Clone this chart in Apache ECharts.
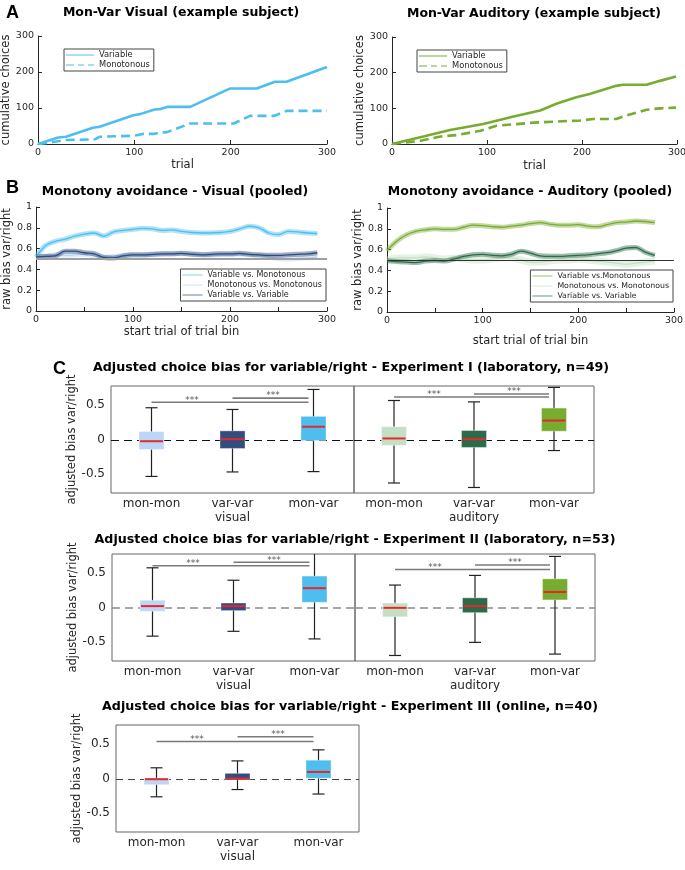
<!DOCTYPE html>
<html>
<head>
<meta charset="utf-8">
<script src="https://cdn.jsdelivr.net/npm/echarts@6/dist/echarts.min.js"></script>
<style>
  html, body { margin: 0; padding: 0; background: #fff; }
  #chart { width: 685px; height: 870px; }
</style>
</head>
<body>
<div id="chart"></div>
<script>
// ---------- data ----------
const trialTicks = [0, 100, 200, 300];
const binTicks = [0, 50, 100, 150, 200, 250, 300];
const adjTicks = [-0.5, 0, 0.5];
const adjTicksRight = [-0.38, 0.39];

// A: cumulative choices, example subject
const visVarTrial = [0, 21, 29, 57, 64, 99, 106, 121, 127, 134, 158, 199, 227, 246, 258, 300];
const visVarCum = [0, 18, 20, 45, 48, 80, 83, 96, 97, 103, 103, 154, 154, 173, 173, 214];
const visMonTrial = [0, 12, 28, 59, 64, 99, 109, 120, 127, 134, 158, 203, 220, 245, 258, 300];
const visMonCum = [0, 4, 11, 13, 20, 23, 28, 28, 32, 33, 57, 57, 78, 78, 92, 92];
const audVarTrial = [0, 33, 61, 96, 128, 156, 173, 194, 208, 236, 243, 268, 282, 299];
const audVarCum = [0, 21, 39, 56, 77, 94, 113, 131, 140, 163, 166, 166, 177, 189];
const audMonTrial = [0, 30, 51, 68, 93, 110, 149, 198, 212, 236, 243, 268, 282, 299];
const audMonCum = [0, 9, 21, 25, 37, 51, 60, 66, 70, 70, 77, 96, 100, 102];

// B: raw bias per trial bin (pooled)
const binVis = [0, 10, 20, 30, 40, 50, 60, 70, 80, 90, 100, 110, 120, 130, 140,
  150, 160, 170, 180, 190, 200, 210, 220, 230, 240, 250, 260, 270, 280, 290];
const visVM = [0.52, 0.63, 0.67, 0.69, 0.72, 0.74, 0.75, 0.72, 0.76, 0.775, 0.785, 0.795, 0.79, 0.775, 0.78,
  0.765, 0.755, 0.75, 0.75, 0.755, 0.765, 0.79, 0.815, 0.80, 0.75, 0.735, 0.765, 0.76, 0.75, 0.745];
const visMM = [0.52, 0.53, 0.54, 0.535, 0.54, 0.545, 0.53, 0.52, 0.525, 0.535, 0.54, 0.535, 0.54, 0.545, 0.55,
  0.55, 0.555, 0.545, 0.535, 0.54, 0.54, 0.545, 0.54, 0.535, 0.52, 0.505, 0.5, 0.505, 0.51, 0.52];
const visVV = [0.52, 0.525, 0.53, 0.575, 0.575, 0.56, 0.55, 0.515, 0.51, 0.53, 0.54, 0.54, 0.545, 0.55, 0.55,
  0.555, 0.545, 0.54, 0.545, 0.55, 0.55, 0.555, 0.545, 0.54, 0.535, 0.535, 0.54, 0.545, 0.55, 0.56];
const binAud = [0, 10, 20, 30, 40, 50, 60, 70, 80, 90, 100, 110, 120, 130, 140,
  150, 160, 170, 180, 190, 200, 210, 220, 230, 240, 250, 260, 270, 280];
const audVM = [0.59, 0.68, 0.74, 0.775, 0.79, 0.80, 0.795, 0.795, 0.815, 0.835, 0.83, 0.82, 0.815, 0.825, 0.835,
  0.85, 0.86, 0.845, 0.835, 0.835, 0.84, 0.825, 0.82, 0.84, 0.86, 0.865, 0.875, 0.87, 0.86];
const audMM = [0.5, 0.52, 0.52, 0.52, 0.53, 0.52, 0.51, 0.52, 0.51, 0.5, 0.5, 0.51, 0.52, 0.52, 0.5,
  0.48, 0.48, 0.49, 0.5, 0.5, 0.51, 0.5, 0.49, 0.48, 0.47, 0.46, 0.47, 0.48, 0.49];
const audVV = [0.495, 0.485, 0.48, 0.475, 0.49, 0.495, 0.49, 0.51, 0.535, 0.55, 0.555, 0.545, 0.54, 0.555, 0.585,
  0.565, 0.54, 0.535, 0.535, 0.54, 0.545, 0.55, 0.56, 0.57, 0.59, 0.615, 0.62, 0.575, 0.545];

// C: adjusted bias boxes, [min, q1, median, q3, max]
const boxCats = ['mon-mon', 'var-var', 'mon-var'];
const exp1Visual = [[-0.53, -0.14, -0.02, 0.12, 0.465], [-0.465, -0.125, 0.01, 0.13, 0.44], [-0.46, -0.01, 0.19, 0.34, 0.73]];
const exp1Auditory = [[-0.625, -0.08, 0.02, 0.19, 0.57], [-0.69, -0.11, 0.01, 0.135, 0.55], [-0.155, 0.125, 0.28, 0.46, 0.76]];
const exp2Visual = [[-0.41, -0.05, 0.025, 0.11, 0.58], [-0.34, -0.04, 0.025, 0.07, 0.40], [-0.45, 0.08, 0.285, 0.46, 0.9]];
const exp2Auditory = [[-0.69, -0.13, 0.0, 0.07, 0.33], [-0.50, -0.07, 0.025, 0.145, 0.47], [-0.67, 0.115, 0.23, 0.42, 0.745]];
const exp3Visual = [[-0.26, -0.085, -0.005, 0.01, 0.16], [-0.155, -0.015, 0.005, 0.08, 0.26], [-0.22, 0.01, 0.10, 0.27, 0.42]];
// significance bars [fromCat, toCat, y]
const sig1Visual = [[0, 2, 0.545], [1, 2, 0.605]];
const sig1Auditory = [[0, 2, 0.62], [1, 2, 0.665]];
const sig2Visual = [[0, 2, 0.61], [1, 2, 0.66]];
const sig2Auditory = [[0, 2, 0.555], [1, 2, 0.62]];
const sig3Visual = [[0, 2, 0.54], [1, 2, 0.61]];

// ---------- styling ----------
const FONT = 'DejaVu Sans';
const INK = '#262626';
const visCol = { vm: '#4DBEEE', mm: '#B9D6F4', vv: '#2F4B7E' };
const audCol = { vm: '#77AC30', mm: '#C4E0C4', vv: '#2C6B4A' };
const visBoxCol = ['#BCD7F5', '#334D7F', '#4DBEEE'];
const audBoxCol = ['#C4DFC4', '#2C6B4A', '#77AC30'];
const C_MIN = -0.77, C_MAX = 0.78;

const ICON_SOLID = 'path://M0,0H28V1H0Z';
const ICON_DASHED = 'path://M0,0H8V1H0Z M12,0H18V1H12Z M22,0H28V1H22Z';

const chart = echarts.init(document.getElementById('chart'), null, { renderer: 'canvas' });

const grids = [];
const xAxes = [];
const yAxes = [];
const series = [];
const legends = [];

const tickStyle = { inside: true, length: 4, lineStyle: { color: INK } };
const lineAxis = { lineStyle: { color: INK, width: 1 } };

function pairs(xs, ys) {
  return xs.map((x, i) => [x, ys[i]]);
}

function addLineGrid(rect, xCfg, yCfg) {
  const g = grids.length;
  grids.push(Object.assign({ outerBoundsMode: 'none' }, rect));
  xAxes.push(Object.assign({
    gridIndex: g, type: 'value', min: 0, max: 300,
    axisLine: lineAxis, axisTick: tickStyle, splitLine: { show: false },
    nameLocation: 'middle',
    nameTextStyle: { fontFamily: FONT, fontSize: 11.5, color: INK },
    axisLabel: { fontFamily: FONT, fontSize: 9.5, color: INK, margin: 4 }
  }, xCfg));
  yAxes.push(Object.assign({
    gridIndex: g, type: 'value',
    axisLine: Object.assign({ show: true }, lineAxis), axisTick: tickStyle, splitLine: { show: false },
    nameLocation: 'middle',
    nameTextStyle: { fontFamily: FONT, fontSize: 11.5, color: INK },
    axisLabel: { fontFamily: FONT, fontSize: 9.5, color: INK, margin: 4 }
  }, yCfg));
  return g;
}

// ---- panel A ----
const gA1 = addLineGrid({ left: 38, top: 36, width: 289, height: 108 },
  { name: 'trial', nameGap: 13, interval: 100 },
  { name: 'cumulative choices', nameGap: 21, min: 0, max: 300, interval: 100 });
const gA2 = addLineGrid({ left: 392, top: 37, width: 285, height: 107 },
  { name: 'trial', nameGap: 16, interval: 100 },
  { name: 'cumulative choices', nameGap: 24, min: 0, max: 300, interval: 100 });

function cumSeries(g, name, xs, ys, color, dashed) {
  series.push({
    type: 'line', name, xAxisIndex: g, yAxisIndex: g,
    data: pairs(xs, ys), symbol: 'none',
    lineStyle: { color, width: 2.6, type: dashed ? [9, 5] : 'solid' },
    itemStyle: { color }
  });
}
cumSeries(gA1, 'Variable', visVarTrial, visVarCum, visCol.vm, false);
cumSeries(gA1, 'Monotonous', visMonTrial, visMonCum, visCol.vm, true);
cumSeries(gA2, 'Variable', audVarTrial, audVarCum, audCol.vm, false);
cumSeries(gA2, 'Monotonous', audMonTrial, audMonCum, audCol.vm, true);

function lineLegend(pos, items, itemWidth, fontSize, iconHeight) {
  legends.push(Object.assign({
    orient: 'vertical', itemWidth, itemHeight: iconHeight, itemGap: 2,
    padding: [2, 4, 2, 2], backgroundColor: '#fff', borderColor: '#444', borderWidth: 1,
    textStyle: { fontFamily: FONT, fontSize, color: INK },
    selectedMode: false,
    data: items.map(it => ({
      name: it.name,
      icon: it.dashed ? ICON_DASHED : ICON_SOLID,
      itemStyle: { color: it.color, borderWidth: 0 }
    }))
  }, pos));
}
lineLegend({ left: 64, top: 49 }, [
  { name: 'Variable', color: visCol.vm },
  { name: 'Monotonous', color: visCol.vm, dashed: true }
], 28, 8.3, 2.6);
lineLegend({ left: 417, top: 50 }, [
  { name: 'Variable', color: audCol.vm },
  { name: 'Monotonous', color: audCol.vm, dashed: true }
], 28, 8.3, 2.6);

// ---- panel B ----
const gB1 = addLineGrid({ left: 36, top: 207, width: 291, height: 104 },
  { name: 'start trial of trial bin', nameGap: 15, axisTick: Object.assign({ customValues: binTicks }, tickStyle),
    axisLabel: { customValues: trialTicks, fontFamily: FONT, fontSize: 9.5, color: INK, margin: 4 } },
  { name: 'raw bias var/right', nameGap: 19, min: 0, max: 1, interval: 0.2 });
const gB2 = addLineGrid({ left: 387, top: 208, width: 287, height: 104 },
  { name: 'start trial of trial bin', nameGap: 23, axisTick: Object.assign({ customValues: binTicks }, tickStyle),
    axisLabel: { customValues: trialTicks, fontFamily: FONT, fontSize: 9.5, color: INK, margin: 4 } },
  { name: 'raw bias var/right', nameGap: 19, min: 0, max: 1, interval: 0.2 });

function biasSeries(g, name, xs, ys, color, bandWidth, refLine) {
  const band = {
    type: 'line', xAxisIndex: g, yAxisIndex: g, data: pairs(xs, ys),
    symbol: 'none', smooth: 0.35, silent: true,
    lineStyle: { color, width: bandWidth, opacity: 0.45 }
  };
  if (refLine) {
    band.markLine = {
      silent: true, symbol: 'none', label: { show: false },
      data: [{ yAxis: 0.5 }], lineStyle: refLine
    };
  }
  series.push(band);
  series.push({
    type: 'line', name, xAxisIndex: g, yAxisIndex: g, data: pairs(xs, ys),
    symbol: 'none', smooth: 0.35,
    lineStyle: { color, width: 1.3 }, itemStyle: { color }
  });
}
biasSeries(gB1, 'Variable vs. Monotonous', binVis, visVM, visCol.vm, 5, null);
biasSeries(gB1, 'Monotonous vs. Monotonous', binVis, visMM, visCol.mm, 5, { color: '#a0a0a0', width: 2, type: 'solid' });
biasSeries(gB1, 'Variable vs. Variable', binVis, visVV, visCol.vv, 5, null);
biasSeries(gB2, 'Variable vs.Monotonous', binAud, audVM, audCol.vm, 5, null);
biasSeries(gB2, 'Monotonous vs. Monotonous', binAud, audMM, audCol.mm, 7, null);
biasSeries(gB2, 'Variable vs. Variable', binAud, audVV, audCol.vv, 5, { color: '#333', width: 1, type: 'solid' });

lineLegend({ right: 359, top: 269 }, [
  { name: 'Variable vs. Monotonous', color: visCol.vm },
  { name: 'Monotonous vs. Monotonous', color: visCol.mm },
  { name: 'Variable vs. Variable', color: visCol.vv }
], 20, 8, 2.2);
lineLegend({ right: 12, top: 270 }, [
  { name: 'Variable vs.Monotonous', color: audCol.vm },
  { name: 'Monotonous vs. Monotonous', color: audCol.mm },
  { name: 'Variable vs. Variable', color: audCol.vv }
], 20, 7.8, 2.2);

// ---- panel C ----
function makeBoxRender(colors) {
  return function (params, api) {
    const cs = params.coordSys;
    const i = api.value(0);
    const x = api.coord([i, 0])[0];
    const clampY = v => Math.max(cs.y, Math.min(cs.y + cs.height, api.coord([i, v])[1]));
    const lo = clampY(api.value(1)), q1 = clampY(api.value(2)), med = clampY(api.value(3));
    const q3 = clampY(api.value(4)), hi = clampY(api.value(5));
    const wk = { stroke: '#222', lineWidth: 1.2 };
    const boxHalf = 12.5, capHalf = 6;
    const kids = [
      { type: 'line', shape: { x1: x, y1: lo, x2: x, y2: hi }, style: wk },
      { type: 'line', shape: { x1: x - capHalf, y1: lo, x2: x + capHalf, y2: lo }, style: wk }
    ];
    if (hi > cs.y + 0.5) {
      kids.push({ type: 'line', shape: { x1: x - capHalf, y1: hi, x2: x + capHalf, y2: hi }, style: wk });
    }
    kids.push({ type: 'rect', shape: { x: x - boxHalf, y: q3, width: 2 * boxHalf, height: q1 - q3 },
      style: { fill: colors[params.dataIndex], stroke: 'rgba(255,255,255,0.35)', lineWidth: 1 } });
    kids.push({ type: 'line', shape: { x1: x - boxHalf + 1, y1: med, x2: x + boxHalf - 1, y2: med },
      style: { stroke: '#E8262B', lineWidth: 2 } });
    return { type: 'group', children: kids };
  };
}

function renderSig(params, api) {
  const from = api.value(0), to = api.value(1), v = api.value(2);
  const p0 = api.coord([from, v]);
  const p1 = api.coord([to, v]);
  const pm = api.coord([from + 1, v]);
  return {
    type: 'group',
    children: [
      { type: 'line', shape: { x1: p0[0], y1: p0[1], x2: p1[0] - 5, y2: p1[1] },
        style: { stroke: '#7a7a7a', lineWidth: 1.6 } },
      { type: 'text', x: (p0[0] + pm[0]) / 2, y: p0[1] - 2,
        style: { text: '***', textAlign: 'center', textVerticalAlign: 'middle',
          fontFamily: FONT, fontSize: 9, fill: '#555' } }
    ]
  };
}

function addBoxGrid(rect, side, groupName, stats, colors, sigs, zeroStyle, yName, yNameGap) {
  const g = grids.length;
  grids.push(Object.assign({ outerBoundsMode: 'none', show: true, borderColor: '#666', borderWidth: 1,
    backgroundColor: 'transparent' }, rect));
  xAxes.push({
    gridIndex: g, type: 'category', data: boxCats, position: 'bottom',
    axisLine: { show: false },
    axisTick: { inside: true, length: 4, alignWithLabel: true, lineStyle: { color: INK } },
    axisLabel: { fontFamily: FONT, fontSize: 12, color: INK, margin: 5 },
    name: groupName, nameLocation: 'middle', nameGap: 19,
    nameTextStyle: { fontFamily: FONT, fontSize: 12, color: INK }
  });
  const xi = xAxes.length - 1;
  xAxes.push({
    gridIndex: g, type: 'category', data: boxCats, position: 'top',
    axisLine: { show: false }, axisLabel: { show: false },
    axisTick: { inside: true, length: 4, alignWithLabel: true, lineStyle: { color: INK } }
  });
  const yCfg = {
    gridIndex: g, type: 'value', min: C_MIN, max: C_MAX, position: side,
    axisLine: { show: false }, splitLine: { show: false }
  };
  if (side === 'left') {
    Object.assign(yCfg, {
      axisTick: { inside: true, length: 4, customValues: adjTicks, lineStyle: { color: INK } },
      axisLabel: { customValues: adjTicks, fontFamily: FONT, fontSize: 12, color: INK, margin: 6 },
      name: yName, nameLocation: 'middle', nameGap: yNameGap,
      nameTextStyle: { fontFamily: FONT, fontSize: 11.5, color: INK }
    });
  } else {
    Object.assign(yCfg, {
      axisTick: { inside: true, length: 4, customValues: adjTicksRight, lineStyle: { color: INK } },
      axisLabel: { show: false }
    });
  }
  yAxes.push(yCfg);
  const yi = yAxes.length - 1;
  series.push({
    type: 'custom', xAxisIndex: xi, yAxisIndex: yi,
    renderItem: makeBoxRender(colors),
    encode: { x: 0, y: [1, 2, 3, 4, 5] },
    data: stats.map((s, i) => [i].concat(s)),
    markLine: {
      silent: true, symbol: 'none', label: { show: false }, z: 1,
      data: [{ yAxis: 0 }], lineStyle: zeroStyle
    },
    z: 3
  });
  series.push({
    type: 'custom', xAxisIndex: xi, yAxisIndex: yi,
    renderItem: renderSig, encode: { x: [0, 1], y: 2 },
    data: sigs, z: 4
  });
}

const zero1 = { color: '#111', width: 1, type: [8, 5] };
const zero2 = { color: '#8a8a8a', width: 1.6, type: [8, 5] };
const zero3 = { color: '#444', width: 1, type: [7, 5] };
addBoxGrid({ left: 111, top: 386, width: 243, height: 107 }, 'left', 'visual', exp1Visual, visBoxCol, sig1Visual, zero1, 'adjusted bias var/right', 21);
addBoxGrid({ left: 354, top: 386, width: 240, height: 107 }, 'right', 'auditory', exp1Auditory, audBoxCol, sig1Auditory, zero1);
addBoxGrid({ left: 112, top: 554, width: 243, height: 107 }, 'left', 'visual', exp2Visual, visBoxCol, sig2Visual, zero2, 'adjusted bias var/right', 22);
addBoxGrid({ left: 355, top: 554, width: 240, height: 107 }, 'right', 'auditory', exp2Auditory, audBoxCol, sig2Auditory, zero2);
addBoxGrid({ left: 116, top: 725, width: 243, height: 107 }, 'left', 'visual', exp3Visual, visBoxCol, sig3Visual, zero3, 'adjusted bias var/right', 24);

// ---- titles & panel letters ----
function title(text, x, y, size) {
  return { type: 'text', x, y, style: { text, textAlign: 'center', textVerticalAlign: 'middle',
    fontFamily: FONT, fontWeight: 'bold', fontSize: size || 12.5, fill: '#000' } };
}
function letter(text, x, y) {
  return { type: 'text', x, y, style: { text, textAlign: 'left', textVerticalAlign: 'middle',
    fontFamily: 'Liberation Sans', fontWeight: 'bold', fontSize: 18, fill: '#000' } };
}

chart.setOption({
  backgroundColor: '#fff',
  animation: false,
  textStyle: { fontFamily: FONT },
  grid: grids,
  xAxis: xAxes,
  yAxis: yAxes,
  legend: legends,
  series,
  graphic: [
    letter('A', 6, 13),
    title('Mon-Var Visual (example subject)', 181, 13),
    title('Mon-Var Auditory (example subject)', 534, 14),
    letter('B', 6, 188),
    title('Monotony avoidance - Visual (pooled)', 175, 192),
    title('Monotony avoidance - Auditory (pooled)', 530, 192),
    letter('C', 53, 369),
    title('Adjusted choice bias for variable/right - Experiment I (laboratory, n=49)', 351, 368, 12.7),
    title('Adjusted choice bias for variable/right - Experiment II (laboratory, n=53)', 355, 540, 12.7),
    title('Adjusted choice bias for variable/right - Experiment III (online, n=40)', 350, 707, 12.7)
  ]
});
</script>
</body>
</html>
